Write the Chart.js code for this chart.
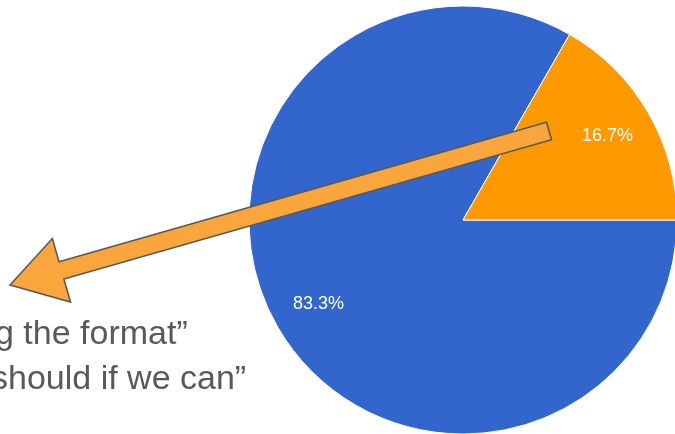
<!DOCTYPE html>
<html lang="en">

<head>
    <meta charset="UTF-8">
    <title>Pie</title>
    <script src="https://cdn.jsdelivr.net/npm/chart.js@4.4.0/dist/chart.umd.min.js"></script>
    <style>
        body {
            margin: 0;
            width: 675px;
            height: 434px;
            overflow: hidden;
            background: #fff;
            position: relative;
        }

        #wrap {
            position: absolute;
            left: 0;
            top: 0;
            width: 680px;
            height: 440px;
        }

        .note {
            position: absolute;
            font-family: "Liberation Sans", Arial, sans-serif;
            font-size: 34px;
            color: #595959;
            white-space: nowrap;
            line-height: 1;
        }
    </style>
</head>

<body>
    <div id="wrap"><canvas id="pieChart" width="680" height="440"></canvas></div>
    <div class="note" style="left:-5px; top:315px;">g the format”</div>
    <div class="note" style="left:-9px; top:360px;">should if we can”</div>

    <script>
        const categories = ['Yes', 'No'];
        const shares = [83.3, 16.7];

        // percentage text inside each slice
        const sliceLabels = {
            id: 'sliceLabels',
            afterDatasetsDraw(chart) {
                const ctx = chart.ctx;
                const meta = chart.getDatasetMeta(0);
                ctx.save();
                ctx.fillStyle = '#ffffff';
                ctx.font = '18px "Liberation Sans", Arial, sans-serif';
                ctx.textAlign = 'center';
                ctx.textBaseline = 'middle';
                meta.data.forEach((arc, i) => {
                    const mid = (arc.startAngle + arc.endAngle) / 2;
                    const r = arc.outerRadius * 0.78;
                    ctx.fillText(shares[i].toFixed(1) + '%', arc.x + Math.cos(mid) * r, arc.y + Math.sin(mid) * r);
                });
                ctx.restore();
            }
        };

        // block arrow laid over the pie
        const arrowOverlay = {
            id: 'arrowOverlay',
            afterDraw(chart) {
                const ctx = chart.ctx;
                const tip = { x: 10, y: 285 };
                const tail = { x: 549, y: 131 };
                const len = Math.hypot(tail.x - tip.x, tail.y - tip.y);
                const ux = (tail.x - tip.x) / len, uy = (tail.y - tip.y) / len;
                const nx = -uy, ny = ux;
                const headLen = 53.5, headHalf = 33, shaftHalf = 9;
                const at = (d, s) => [tip.x + ux * d + nx * s, tip.y + uy * d + ny * s];
                const pts = [
                    [tip.x, tip.y],
                    at(headLen, headHalf),
                    at(headLen, shaftHalf),
                    at(len, shaftHalf),
                    at(len, -shaftHalf),
                    at(headLen, -shaftHalf),
                    at(headLen, -headHalf)
                ];
                ctx.save();
                ctx.beginPath();
                pts.forEach((p, i) => i ? ctx.lineTo(p[0], p[1]) : ctx.moveTo(p[0], p[1]));
                ctx.closePath();
                ctx.fillStyle = '#fba63c';
                ctx.fill();
                ctx.lineWidth = 1.6;
                ctx.strokeStyle = '#595959';
                ctx.lineJoin = 'miter';
                ctx.stroke();
                ctx.restore();
            }
        };

        new Chart(document.getElementById('pieChart'), {
            type: 'pie',
            data: {
                labels: categories,
                datasets: [{
                    data: shares,
                    backgroundColor: ['#3366cc', '#ff9900'],
                    borderColor: '#ffffff',
                    borderWidth: 1,
                    hoverOffset: 0
                }]
            },
            options: {
                responsive: false,
                animation: false,
                devicePixelRatio: 1,
                rotation: 90,
                radius: 214,
                layout: { padding: { left: 249, right: 3, top: 6, bottom: 6 } },
                plugins: {
                    legend: { display: false },
                    tooltip: { enabled: false }
                }
            },
            plugins: [sliceLabels, arrowOverlay]
        });
    </script>
</body>

</html>
